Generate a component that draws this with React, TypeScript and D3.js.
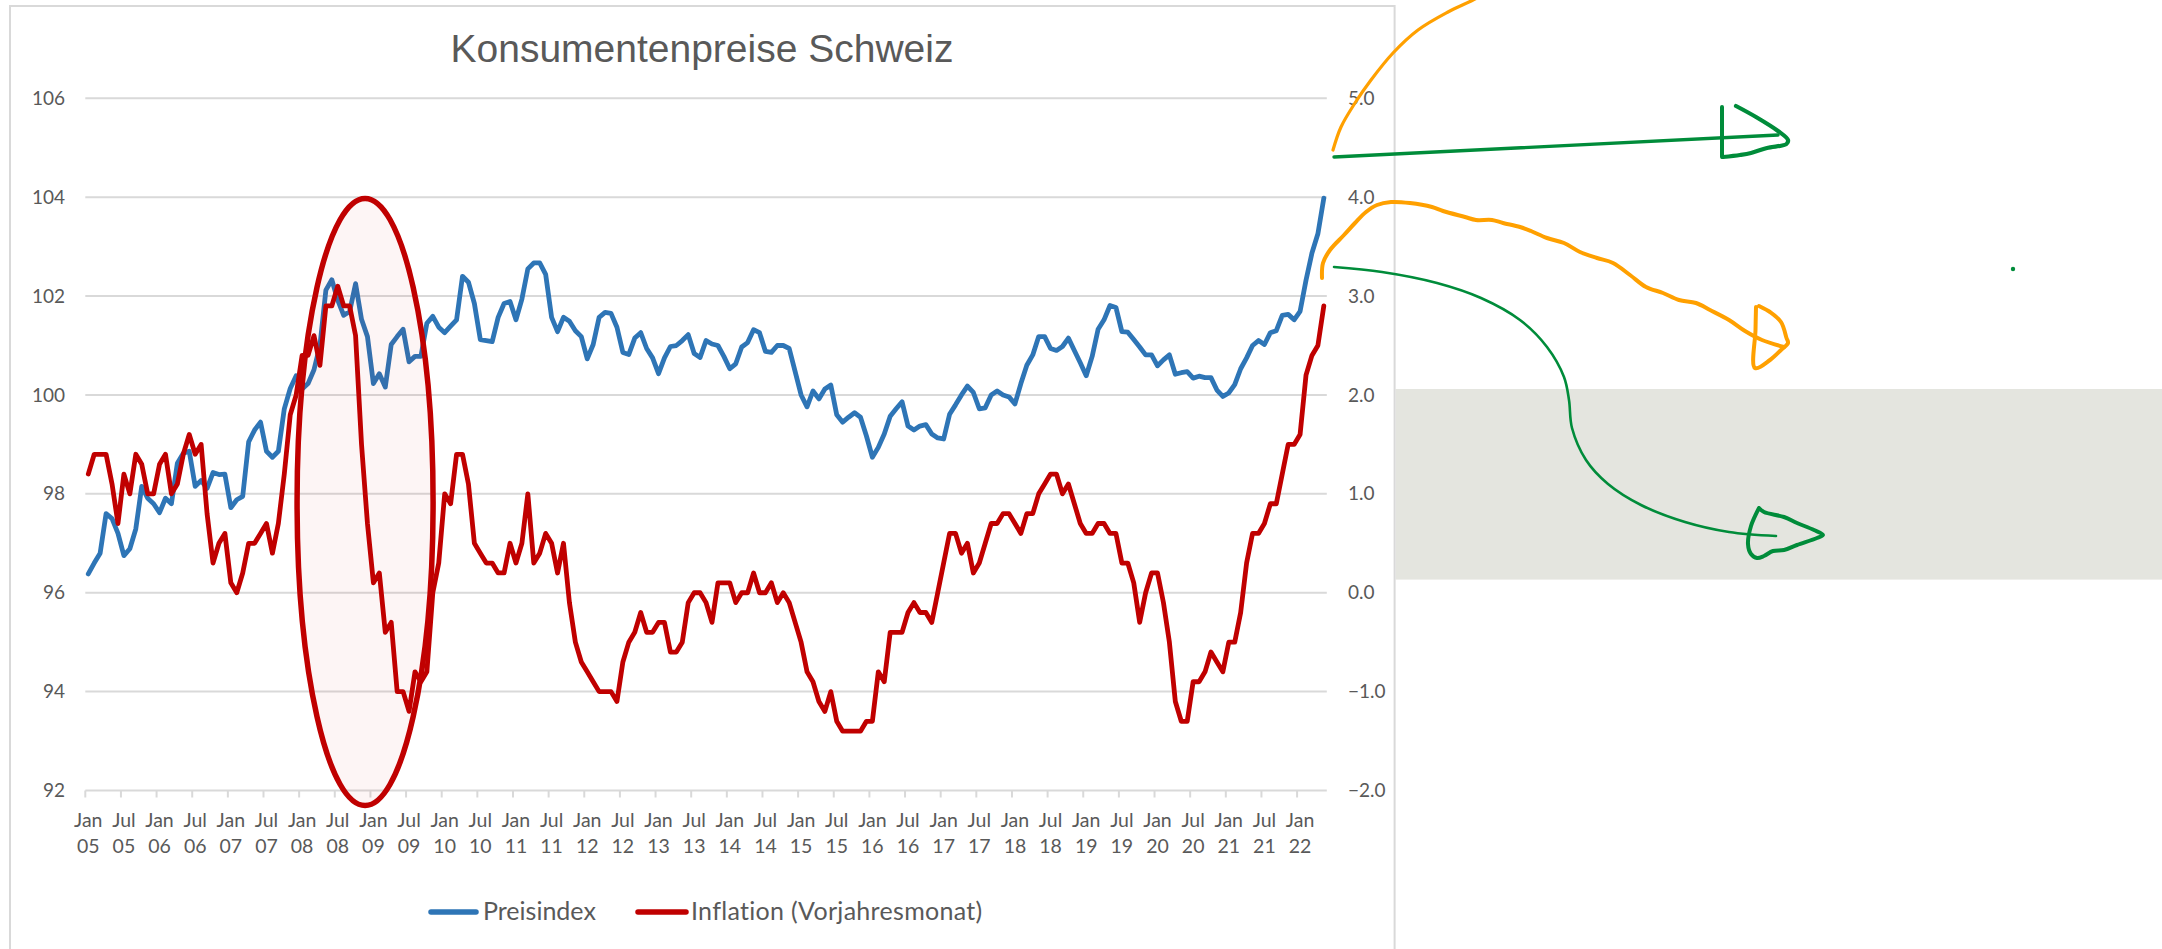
import * as d3 from "d3";

// Monatswerte Jan 2005 – Mai 2022
const startYear = 2005;

const preisindex = [
  96.38, 96.6, 96.8, 97.6, 97.5, 97.2, 96.75, 96.89, 97.29, 98.15, 97.91, 97.8,
  97.62, 97.91, 97.8, 98.62, 98.82, 98.86, 98.15, 98.27, 98.11, 98.43, 98.39, 98.4,
  97.72, 97.88, 97.95, 99.05, 99.29, 99.45, 98.86, 98.74, 98.86, 99.72, 100.13, 100.39,
  100.12, 100.23, 100.51, 101.0, 102.12, 102.33, 101.92, 101.61, 101.69, 102.25, 101.53, 101.18,
  100.23, 100.43, 100.16, 101.02, 101.18, 101.33, 100.67, 100.78, 100.78, 101.45, 101.59, 101.37,
  101.26, 101.39, 101.52, 102.4, 102.28, 101.85, 101.12, 101.1, 101.08, 101.57, 101.85, 101.89,
  101.52, 101.94, 102.55, 102.67, 102.67, 102.44, 101.57, 101.28, 101.57, 101.49, 101.3, 101.18,
  100.73, 101.02, 101.57, 101.67, 101.65, 101.37, 100.86, 100.82, 101.15, 101.26, 100.94, 100.75,
  100.43, 100.75, 100.98, 101.0, 101.1, 101.22, 100.84, 100.76, 101.1, 101.03, 101.0, 100.78,
  100.53, 100.63, 100.97, 101.06, 101.32, 101.26, 100.88, 100.86, 101.0, 101.0, 100.94, 100.47,
  100.0, 99.76, 100.08, 99.92, 100.12, 100.2, 99.6, 99.45, 99.55, 99.64, 99.55, 99.17,
  98.74, 98.94, 99.21, 99.57, 99.72, 99.86, 99.37, 99.29, 99.37, 99.4, 99.21, 99.13,
  99.11, 99.61, 99.8, 100.0, 100.18, 100.05, 99.72, 99.74, 100.0, 100.08, 100.0, 99.96,
  99.82, 100.23, 100.6, 100.81, 101.18, 101.18, 100.94, 100.9, 100.98, 101.15, 100.9, 100.65,
  100.39, 100.78, 101.33, 101.52, 101.81, 101.77, 101.28, 101.27, 101.12, 100.97, 100.81, 100.81,
  100.59, 100.71, 100.81, 100.42, 100.45, 100.47, 100.34, 100.38, 100.35, 100.35, 100.1, 99.97,
  100.04, 100.21, 100.53, 100.75, 101.0, 101.1, 101.02, 101.26, 101.3, 101.61, 101.63, 101.52,
  101.69, 102.32, 102.87, 103.26, 103.98,
];

const inflation = [
  1.2, 1.4, 1.4, 1.4, 1.1, 0.7, 1.2, 1.0, 1.4, 1.3, 1.0, 1.0,
  1.3, 1.4, 1.0, 1.1, 1.4, 1.6, 1.4, 1.5, 0.8, 0.3, 0.5, 0.6,
  0.1, 0.0, 0.2, 0.5, 0.5, 0.6, 0.7, 0.4, 0.7, 1.2, 1.8, 2.0,
  2.4, 2.4, 2.6, 2.3, 2.9, 2.9, 3.1, 2.9, 2.9, 2.6, 1.5, 0.7,
  0.1, 0.2, -0.4, -0.3, -1.0, -1.0, -1.2, -0.8, -0.9, -0.8, 0.0, 0.3,
  1.0, 0.9, 1.4, 1.4, 1.1, 0.5, 0.4, 0.3, 0.3, 0.2, 0.2, 0.5,
  0.3, 0.5, 1.0, 0.3, 0.4, 0.6, 0.5, 0.2, 0.5, -0.1, -0.5, -0.7,
  -0.8, -0.9, -1.0, -1.0, -1.0, -1.1, -0.7, -0.5, -0.4, -0.2, -0.4, -0.4,
  -0.3, -0.3, -0.6, -0.6, -0.5, -0.1, 0.0, 0.0, -0.1, -0.3, 0.1, 0.1,
  0.1, -0.1, 0.0, 0.0, 0.2, 0.0, 0.0, 0.1, -0.1, 0.0, -0.1, -0.3,
  -0.5, -0.8, -0.9, -1.1, -1.2, -1.0, -1.3, -1.4, -1.4, -1.4, -1.4, -1.3,
  -1.3, -0.8, -0.9, -0.4, -0.4, -0.4, -0.2, -0.1, -0.2, -0.2, -0.3, 0.0,
  0.3, 0.6, 0.6, 0.4, 0.5, 0.2, 0.3, 0.5, 0.7, 0.7, 0.8, 0.8,
  0.7, 0.6, 0.8, 0.8, 1.0, 1.1, 1.2, 1.2, 1.0, 1.1, 0.9, 0.7,
  0.6, 0.6, 0.7, 0.7, 0.6, 0.6, 0.3, 0.3, 0.1, -0.3, 0.0, 0.2,
  0.2, -0.1, -0.5, -1.1, -1.3, -1.3, -0.9, -0.9, -0.8, -0.6, -0.7, -0.8,
  -0.5, -0.5, -0.2, 0.3, 0.6, 0.6, 0.7, 0.9, 0.9, 1.2, 1.5, 1.5,
  1.6, 2.2, 2.4, 2.5, 2.9,
];

const leftTicks = [92, 94, 96, 98, 100, 102, 104, 106];
const rightTicks = [-2, -1, 0, 1, 2, 3, 4, 5];
const tickMonths = ["Jan", "Jul"];
const seriesNames = ["Preisindex", "Inflation (Vorjahresmonat)"];
const seriesColors = ["#2e75b6", "#c00000"];
const title = "Konsumentenpreise Schweiz";

// Markierung (Ellipse) in Datenkoordinaten: Monat-Index / linke Achse
const highlight = { month: 46.6, value: 97.835, monthRadius: 11.45, valueRadius: 6.14 };

// Freihand-Notizen rechts neben dem Diagramm (Pixel)
const orangeTop: [number, number][] = [
  [1333, 150], [1341, 127], [1355, 103], [1371, 80], [1393, 53], [1418, 30], [1448, 12], [1473, 0], [1492, -10],
];
const orangeLow: [number, number][] = [
  [1322, 278], [1323, 263], [1330, 250], [1344, 235], [1355, 223], [1366, 212], [1377, 205], [1391, 202],
  [1410, 203], [1432, 207], [1443, 211], [1465, 217], [1476, 220], [1492, 220], [1503, 223], [1520, 227],
  [1531, 231], [1547, 238], [1564, 243], [1580, 252], [1597, 258], [1613, 263], [1630, 275], [1646, 287],
  [1663, 293], [1679, 300], [1696, 303], [1710, 310], [1729, 320], [1745, 331], [1762, 340], [1784, 347],
];
const orangeHead: [number, number][] = [
  [1756, 307], [1755.5, 330], [1755, 368], [1770, 360], [1781, 350], [1788, 343], [1786.5, 338],
  [1781, 322], [1770, 312], [1759, 306],
];
const greenShaft: [number, number][] = [[1334, 157], [1778, 135]];
const greenHeadBar: [number, number][] = [[1722, 107], [1722, 157]];
const greenHead: [number, number][] = [
  [1736, 106], [1756, 117], [1778, 131], [1788, 140], [1786.5, 144], [1767, 148], [1751, 153], [1740, 155], [1723, 157],
];
const greenCurve: [number, number][] = [
  [1334, 267], [1382, 272], [1437, 283], [1481, 298], [1520, 320], [1547, 347], [1564, 377], [1569, 400],
  [1572, 428], [1586, 460], [1608, 484], [1641, 505], [1685, 522], [1729, 532], [1776, 536],
];
const greenHead2: [number, number][] = [
  [1759, 508], [1764, 512], [1784, 517], [1797, 523], [1814, 530], [1823, 535], [1817, 538], [1797, 545],
  [1784, 550], [1773, 551], [1764, 556], [1757, 558], [1751, 554], [1748, 544], [1751, 526], [1759, 508],
];

const W = 2162;
const H = 949;
const plot = { left: 85.3, right: 1326.8, top: 98.3, bottom: 790.5 };
const font = "Lato, 'Open Sans', sans-serif";
const textColor = "#595959";
const gridColor = "#d9d9d9";
const orange = "#ffa000";
const green = "#008c3a";

export default function App() {
  const n = preisindex.length;
  const x = d3.scaleLinear().domain([-0.5, n - 0.5]).range([plot.left, plot.right]);
  const yL = d3.scaleLinear().domain([92, 106]).range([plot.bottom, plot.top]);
  const yR = d3.scaleLinear().domain([-2, 5]).range([plot.bottom, plot.top]);

  const blueLine = d3.line<number>().x((_, i) => x(i)).y((d) => yL(d));
  const redLine = d3.line<number>().x((_, i) => x(i)).y((d) => yR(d));
  const sketch = d3.line<[number, number]>().curve(d3.curveCatmullRom.alpha(0.5));
  const straight = d3.line<[number, number]>();

  const tickIdx = d3.range(0, n, 6);

  const ex = x(highlight.month);
  const ey = yL(highlight.value);
  const erx = x(highlight.month + highlight.monthRadius) - ex;
  const ery = yL(highlight.value - highlight.valueRadius) - ey;

  return (
    <svg
      width={W}
      height={H}
      style={{ position: "absolute", left: 0, top: 0, background: "#fff" }}
    >
      {/* graue Fläche rechts */}
      <rect x={1395.6} y={389} width={W - 1395.6} height={190.6} fill="#e4e5df" />
      {/* Diagrammrahmen */}
      <rect x={10} y={6} width={1384.6} height={H + 20} fill="none" stroke={gridColor} strokeWidth={2} />

      <text x={702} y={62} textAnchor="middle" fontFamily="'Liberation Sans', Arial, sans-serif" fontSize={39} fill={textColor}>
        {title}
      </text>

      {/* Gitterlinien */}
      {leftTicks.map((t) => (
        <line key={t} x1={plot.left} x2={plot.right} y1={yL(t)} y2={yL(t)} stroke={gridColor} strokeWidth={2} />
      ))}
      {leftTicks.map((t) => (
        <text key={"l" + t} x={65} y={yL(t)} dy="0.35em" textAnchor="end" fontFamily={font} fontSize={19} fill={textColor}>
          {t}
        </text>
      ))}
      {rightTicks.map((t) => (
        <text key={"r" + t} x={1348} y={yR(t)} dy="0.35em" textAnchor="start" fontFamily={font} fontSize={19} fill={textColor}>
          {d3.format(".1f")(t)}
        </text>
      ))}

      {/* x-Achse */}
      {tickIdx.map((i) => (
        <line key={"t" + i} x1={x(i - 0.5)} x2={x(i - 0.5)} y1={plot.bottom} y2={plot.bottom + 7} stroke={gridColor} strokeWidth={2} />
      ))}
      {tickIdx.map((i) => {
        const m = i % 12 === 0 ? tickMonths[0] : tickMonths[1];
        const yy = String((startYear + Math.floor(i / 12)) % 100).padStart(2, "0");
        return (
          <text key={"x" + i} x={x(i)} textAnchor="middle" fontFamily={font} fontSize={19.5} fill={textColor}>
            <tspan x={x(i)} y={827}>{m}</tspan>
            <tspan x={x(i)} y={853}>{yy}</tspan>
          </text>
        );
      })}

      {/* Serien */}
      <path d={blueLine(preisindex) ?? ""} fill="none" stroke={seriesColors[0]} strokeWidth={4.8} strokeLinejoin="round" strokeLinecap="round" />
      <path d={redLine(inflation) ?? ""} fill="none" stroke={seriesColors[1]} strokeWidth={4.8} strokeLinejoin="round" strokeLinecap="round" />

      {/* Markierung */}
      <ellipse cx={ex} cy={ey} rx={erx} ry={ery} fill="#c00000" fillOpacity={0.04} stroke="#c00000" strokeWidth={5.5} />

      {/* Legende */}
      <line x1={431} x2={476} y1={912} y2={912} stroke={seriesColors[0]} strokeWidth={5.5} strokeLinecap="round" />
      <text x={483} y={920} fontFamily={font} fontSize={25} fill={textColor}>{seriesNames[0]}</text>
      <line x1={638} x2={686} y1={912} y2={912} stroke={seriesColors[1]} strokeWidth={5.5} strokeLinecap="round" />
      <text x={691} y={920} fontFamily={font} fontSize={25} letterSpacing={0.3} fill={textColor}>{seriesNames[1]}</text>

      {/* Freihand-Notizen */}
      <g fill="none" strokeLinecap="round" strokeLinejoin="round">
        <path d={sketch(orangeTop) ?? ""} stroke={orange} strokeWidth={3.2} />
        <path d={sketch(orangeLow) ?? ""} stroke={orange} strokeWidth={4} />
        <path d={sketch(orangeHead) ?? ""} stroke={orange} strokeWidth={4} />
        <path d={straight(greenShaft) ?? ""} stroke={green} strokeWidth={3.4} />
        <path d={straight(greenHeadBar) ?? ""} stroke={green} strokeWidth={4} />
        <path d={sketch(greenHead) ?? ""} stroke={green} strokeWidth={4.2} />
        <path d={sketch(greenCurve) ?? ""} stroke={green} strokeWidth={2.6} />
        <path d={sketch(greenHead2) ?? ""} stroke={green} strokeWidth={4} />
      </g>
      <circle cx={2013} cy={269} r={2.2} fill={green} />
    </svg>
  );
}
